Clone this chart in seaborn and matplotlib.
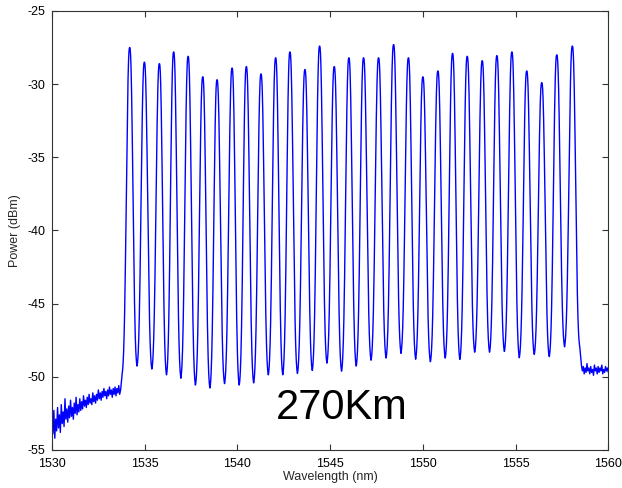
import numpy as np
import pandas as pd
import matplotlib
matplotlib.use("Agg")
import matplotlib.pyplot as plt
import seaborn as sns

# Channel centre wavelengths (nm) and peak powers (dBm)
peak_wl = [1534.19, 1534.98, 1535.79, 1536.56, 1537.34, 1538.13, 1538.90, 1539.71,
           1540.48, 1541.27, 1542.06, 1542.83, 1543.64, 1544.43, 1545.22, 1546.01,
           1546.80, 1547.61, 1548.42, 1549.22, 1550.00, 1550.81, 1551.60, 1552.39,
           1553.20, 1553.99, 1554.80, 1555.60, 1556.41, 1557.22, 1558.06]
peak_db = [-27.5, -28.5, -28.6, -27.8, -28.1, -29.5, -29.7, -28.9,
           -28.8, -29.3, -28.2, -27.8, -29.0, -27.4, -28.8, -28.2,
           -28.2, -28.2, -27.3, -28.2, -29.5, -29.1, -27.9, -28.1,
           -28.4, -28.05, -27.8, -29.1, -29.9, -28.0, -27.4]

# Inter-channel minima (dBm), one between each pair of neighbouring channels
valley_db = [-49.3, -49.5, -49.9, -50.1, -50.6, -50.8, -50.5, -50.6, -50.45, -49.9,
             -49.9, -49.8, -49.6, -49.1, -49.65, -49.3, -48.9, -48.75, -48.4, -48.8,
             -49.0, -48.75, -48.85, -48.35, -48.35, -48.3, -48.7, -48.5, -48.65, -47.95]

# Band edges of the channel comb (nm, dBm)
edge_wl = [1533.78, 1558.46]
edge_db = [-49.8, -47.95]

# ASE floor below the band (nm, dBm)
floor_lo_wl = [round(1530.00 + 0.05 * i, 2) for i in range(75)]
floor_lo_db = [-52.6, -53.9, -52.3, -54.2, -52.9, -53.7, -52.1, -53.5, -52.6, -53.8,
               -51.9, -53.2, -52.4, -53.4, -51.5, -52.9, -52.2, -53.1, -52.0, -52.8,
               -51.6, -52.7, -52.1, -52.9, -51.8, -52.5, -51.4, -52.6, -51.9, -52.4,
               -51.5, -52.3, -51.7, -52.2, -51.3, -52.0, -51.6, -52.1, -51.4, -51.9,
               -51.2, -51.8, -51.5, -51.9, -51.1, -51.7, -51.3, -51.8, -51.2, -51.6,
               -50.9, -51.5, -51.1, -51.6, -51.0, -51.4, -50.8, -51.3, -51.0, -51.5,
               -50.9, -51.3, -50.7, -51.2, -50.9, -51.4, -50.8, -51.2, -50.7, -51.3,
               -50.8, -51.1, -50.6, -51.2, -50.9]

# ASE floor above the band (nm, dBm)
floor_hi_wl = [round(1558.55 + 0.05 * i, 2) for i in range(30)]
floor_hi_db = [-49.2, -49.6, -49.3, -49.8, -49.4, -49.7, -49.1, -49.6, -49.4, -49.8,
               -49.3, -49.7, -49.5, -49.9, -49.2, -49.6, -49.4, -49.8, -49.3, -49.7,
               -49.4, -49.6, -49.2, -49.8, -49.5, -49.7, -49.3, -49.6, -49.4, -49.7]

x_ticks = [1530, 1535, 1540, 1545, 1550, 1555, 1560]
y_ticks = [-25, -30, -35, -40, -45, -50, -55]


def line_shape(u):
    """Normalised channel profile: 1 at the centre, 0 at the half-spacing point."""
    raw = np.exp(-(u / 0.55) ** 2.5)
    end = np.exp(-(1 / 0.55) ** 2.5)
    return np.clip((raw - end) / (1 - end), 0, 1)


def comb_trace(wl):
    pk = np.asarray(peak_wl)
    pdb = np.asarray(peak_db)
    bounds = np.concatenate([[edge_wl[0]], (pk[:-1] + pk[1:]) / 2, [edge_wl[1]]])
    levels = np.concatenate([[edge_db[0]], valley_db, [edge_db[1]]])
    out = np.empty_like(wl)
    for i, w in enumerate(wl):
        k = int(np.argmin(np.abs(pk - w)))
        if w >= pk[k]:
            u = (w - pk[k]) / (bounds[k + 1] - pk[k])
            v = levels[k + 1]
        else:
            u = (pk[k] - w) / (pk[k] - bounds[k])
            v = levels[k]
        out[i] = v + (pdb[k] - v) * line_shape(min(u, 1.0))
    return out


comb_wl = np.arange(edge_wl[0], edge_wl[1] + 1e-9, 0.01)
comb_db = comb_trace(comb_wl)

wl_all = np.concatenate([floor_lo_wl, comb_wl, floor_hi_wl])
db_all = np.concatenate([floor_lo_db, comb_db, floor_hi_db])
spectrum = pd.DataFrame({"Wavelength (nm)": wl_all, "Power (dBm)": db_all})

sns.set_style("white")
plt.rcParams["font.family"] = ["Liberation Sans", "DejaVu Sans"]

fig = plt.figure(figsize=(6.22, 4.88), dpi=100)
ax = fig.add_axes([0.0836, 0.078, 0.8944, 0.8995])

sns.lineplot(data=spectrum, x="Wavelength (nm)", y="Power (dBm)", estimator=None,
             sort=False, color="#0000ff", linewidth=1.0, ax=ax)

ax.set_xlim(1530, 1560)
ax.set_ylim(-55, -25)
ax.set_xticks(x_ticks)
ax.set_yticks(y_ticks)
ax.set_xticklabels([str(t) for t in x_ticks])
ax.set_yticklabels([str(t) for t in y_ticks])
ax.tick_params(direction="in", length=4, width=0.8, colors="#333333",
               labelcolor="black", labelsize=9, top=True, right=True,
               bottom=True, left=True)
ax.tick_params(axis="x", pad=5.5)
ax.tick_params(axis="y", pad=5)
for sp in ax.spines.values():
    sp.set_color("#333333")
    sp.set_linewidth(0.8)
ax.set_xlabel("Wavelength (nm)", fontsize=9, labelpad=1)
ax.set_ylabel("Power (dBm)", fontsize=9, labelpad=4)

ax.text(1545.6, -52.1, "270Km", fontsize=30, ha="center", va="center", color="black")

fig.savefig("out.png", dpi=100)
